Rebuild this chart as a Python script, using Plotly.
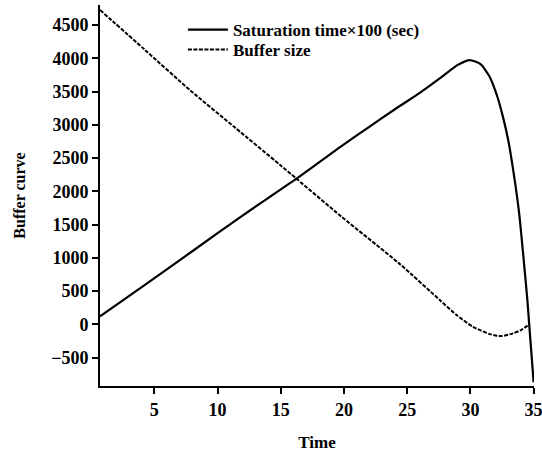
import plotly.graph_objects as go

# Saturation time (x100 sec) against time
sat_time = [0.7, 4, 8, 12, 16.24, 19.8, 22, 24, 26, 27.6, 29, 29.95, 30.8, 31.5, 32.1, 32.6, 33.0, 33.4, 33.85, 34.2, 34.5, 34.65, 35]
sat_vals = [120, 560, 1100, 1640, 2190, 2680, 2970, 3230, 3480, 3700, 3900, 3973, 3910, 3730, 3440, 3100, 2760, 2300, 1680, 1000, 380, 0, -870]

# Buffer size against time
buf_time = [0.7, 4.26, 7.81, 11.4, 14.93, 16.24, 19.8, 24.4, 27.58, 28.9, 30.2, 31.53, 32.45, 33.37, 34.0, 34.64]
buf_vals = [4725, 4124, 3522, 2955, 2400, 2190, 1620, 910, 366, 141, -35, -145, -175, -134, -85, 0]

x_ticks = [5, 10, 15, 20, 25, 30, 35]
y_ticks = [-500, 0, 500, 1000, 1500, 2000, 2500, 3000, 3500, 4000, 4500]

FONT = "Liberation Serif"


def serif(size):
    return dict(family=FONT, size=size, color="black", weight="bold")


fig = go.Figure()
fig.add_trace(go.Scatter(
    x=sat_time, y=sat_vals, mode="lines", name="Saturation time×100 (sec)",
    line=dict(color="black", width=2.2, shape="spline", smoothing=0.6),
    legend="legend",
))
fig.add_trace(go.Scatter(
    x=buf_time, y=buf_vals, mode="lines", name="Buffer size",
    line=dict(color="black", width=2, dash="4px,1.5px", shape="spline", smoothing=0.6),
    legend="legend2",
))

axis_common = dict(
    showline=True, linecolor="black", linewidth=2,
    ticks="outside", ticklen=6, tickwidth=2, tickcolor="black",
    showgrid=False, zeroline=False,
    tickfont=serif(18),
    ticklabeloverflow="allow",
    automargin=False,
)

fig.update_xaxes(
    range=[0.7, 35.03], tickvals=x_ticks,
    title=dict(text="Time", font=serif(17), standoff=18),
    **axis_common,
)
fig.update_yaxes(
    range=[-925, 4800], tickvals=y_ticks,
    title=dict(text="Buffer curve", font=serif(16), standoff=22),
    **axis_common,
)

legend_common = dict(
    xanchor="left", yanchor="middle",
    bgcolor="rgba(0,0,0,0)", borderwidth=0,
    font=serif(17), itemwidth=40,
)

fig.update_layout(
    width=542, height=457,
    margin=dict(l=100, r=8, t=5, b=71),
    plot_bgcolor="white", paper_bgcolor="white",
    showlegend=True,
    legend=dict(x=0.191, y=0.934, **legend_common),
    legend2=dict(x=0.191, y=0.882, **legend_common),
)

fig.write_html("out.html")
